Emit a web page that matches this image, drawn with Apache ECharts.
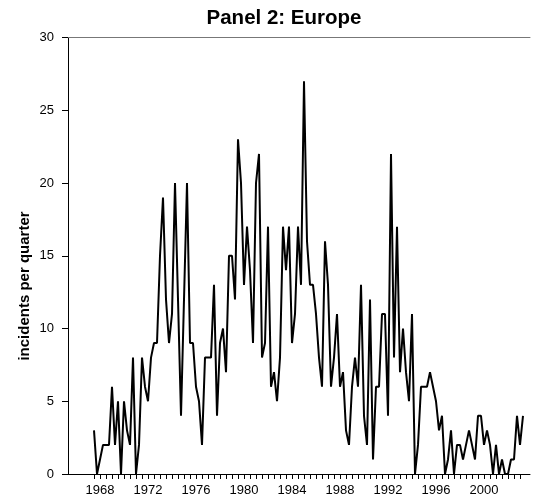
<!DOCTYPE html>
<html>
<head>
<meta charset="utf-8">
<script src="https://cdn.jsdelivr.net/npm/echarts@6/dist/echarts.min.js"></script>
<style>
html,body{margin:0;padding:0;background:#fff;}
#chart{width:540px;height:503px;}
</style>
</head>
<body>
<div id="chart"></div>
<script>
// Quarterly incidents, Europe, starting 1968 Q1
const startYear = 1968;
const quartersPerYear = 4;
const incidents = [
  3,0,1,2,2,2,6,2,5,0,
  5,3,2,8,0,2,8,6,5,8,
  9,9,15,19,12,9,11,20,12,4,
  12,20,9,9,6,5,2,8,8,8,
  13,4,9,10,7,15,15,12,23,20,
  13,17,14,9,20,22,8,9,17,6,
  7,5,8,17,14,17,9,11,17,13,
  27,16,13,13,11,8,6,16,13,6,
  8,11,6,7,3,2,6,8,6,13,
  4,2,12,1,6,6,11,11,4,22,
  8,17,7,10,7,5,11,0,2,6,
  6,6,7,6,5,3,4,0,1,3,
  0,2,2,1,2,3,2,1,4,4,
  2,3,2,0,2,0,1,0,0,1,
  1,4,2,4
];
const yearLabels = [1968,1972,1976,1980,1984,1988,1992,1996,2000];
const yTicks = [0,5,10,15,20,25,30];
const titleText = 'Panel 2: Europe';
const yName = 'incidents per quarter';

const seriesData = incidents.map((v, i) => [startYear + i / quartersPerYear, v]);
const tickValues = [];
for (let t = startYear; t <= 2003.5; t += 0.5) tickValues.push(t);
const labelValues = yearLabels.map(y => y + 0.5);

const chart = echarts.init(document.getElementById('chart'), null, {renderer: 'canvas'});
const font = 'Liberation Sans, Arial, Helvetica, sans-serif';
chart.setOption({
  animation: false,
  backgroundColor: '#fff',
  grid: {left: 68, right: 10, top: 37.5, bottom: 29, containLabel: false},
  xAxis: [{
    type: 'value',
    min: 1965.8333,
    max: 2004.3333,
    axisLine: {show: true, lineStyle: {color: '#000', width: 1}},
    axisTick: {show: true, length: 5, customValues: tickValues, lineStyle: {color: '#000'}},
    axisLabel: {
      show: true, customValues: labelValues, margin: 10,
      formatter: v => String(Math.floor(v)),
      color: '#000', fontSize: 13, fontFamily: font
    },
    splitLine: {show: false}
  }, {
    type: 'value',
    position: 'top',
    min: 1965.8333,
    max: 2004.3333,
    axisLine: {show: true, lineStyle: {color: '#777', width: 1}},
    axisTick: {show: false},
    axisLabel: {show: false},
    splitLine: {show: false}
  }],
  yAxis: {
    type: 'value',
    min: yTicks[0],
    max: yTicks[yTicks.length - 1],
    interval: 5,
    axisLine: {show: true, lineStyle: {color: '#000', width: 1}},
    axisTick: {show: true, length: 6, lineStyle: {color: '#000'}},
    axisLabel: {color: '#000', fontSize: 13, fontFamily: font, margin: 14},
    splitLine: {show: false}
  },
  graphic: [
    {
      type: 'text', x: 284, y: 18,
      style: {text: titleText, font: 'bold 20.5px ' + font, fill: '#000', align: 'center', verticalAlign: 'middle'}
    },
    {
      type: 'text', x: 25, y: 286, rotation: Math.PI / 2,
      style: {text: yName, font: 'bold 15px ' + font, fill: '#000', align: 'center', verticalAlign: 'middle'}
    }
  ],
  series: [{
    type: 'line',
    xAxisIndex: 0,
    data: seriesData,
    showSymbol: false,
    symbol: 'none',
    lineStyle: {color: '#000', width: 2},
    z: 3
  }]
});
</script>
</body>
</html>
